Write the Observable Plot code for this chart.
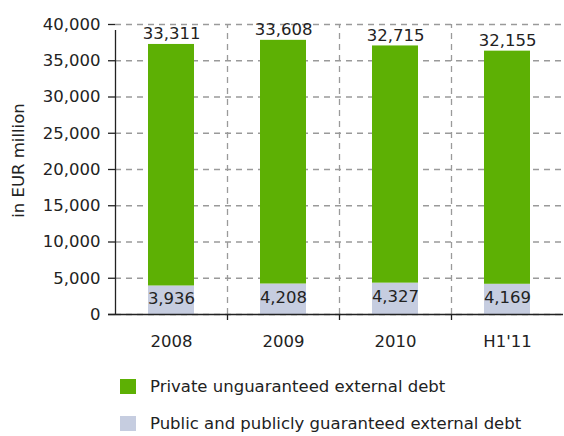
<!DOCTYPE html>
<html>
<head>
<meta charset="utf-8">
<script src="https://cdn.jsdelivr.net/npm/d3@7"></script>
<script src="https://cdn.jsdelivr.net/npm/@observablehq/plot@0.6"></script>
<style>
  html, body { margin: 0; padding: 0; background: #fff; }
  body { width: 564px; height: 436px; overflow: hidden; font-family: "DejaVu Sans", sans-serif; color: #222; }
  #legend { margin-top: 12px; padding-left: 120px; }
  .row { display: flex; align-items: center; height: 37px; font-size: 16.5px; }
  .sw { width: 16px; height: 15px; margin-right: 14px; }
</style>
</head>
<body>
<div id="chart"></div>
<div id="legend"></div>
<script>
const years = ["2008", "2009", "2010", "H1'11"];
const privateDebt = [33311, 33608, 32715, 32155];
const publicDebt = [3936, 4208, 4327, 4169];
const yTicks = [0, 5000, 10000, 15000, 20000, 25000, 30000, 35000, 40000];
const seriesNames = ["Public and publicly guaranteed external debt", "Private unguaranteed external debt"];
const seriesColors = ["#c6cde0", "#5db004"];

const data = years.flatMap((yr, i) => [
  {year: yr, type: seriesNames[0], value: publicDebt[i]},
  {year: yr, type: seriesNames[1], value: privateDebt[i]}
]);
const fmt = d3.format(",");
const step = 112;

const chart = Plot.plot({
  width: 564,
  height: 356,
  marginLeft: 115,
  marginRight: 1,
  marginTop: 24,
  marginBottom: 42,
  style: {fontFamily: "DejaVu Sans, sans-serif", fontSize: "16px", color: "#222", background: "#fff"},
  x: {domain: years, padding: 0, label: null},
  y: {domain: [0, 40000], label: null},
  color: {domain: seriesNames, range: seriesColors},
  marks: [
    Plot.gridY(yTicks, {stroke: "#9a9a9a", strokeOpacity: 1, strokeWidth: 1.3, strokeDasharray: "6,5"}),
    Plot.ruleX(years.slice(1), {x: d => d, dx: -step / 2, y1: 0, y2: 40000, stroke: "#9a9a9a", strokeWidth: 1.3, strokeDasharray: "6,5"}),
    Plot.barY(data, Plot.stackY({x: "year", y: "value", fill: "type", z: "type", order: seriesNames, insetLeft: 33, insetRight: 33})),
    Plot.ruleX(years.slice(1), {x: d => d, dx: -step / 2, y1: 0, y2: 0, insetBottom: -6, stroke: "#222", strokeWidth: 1.3}),
    Plot.ruleX(years.slice(0, 1), {x: d => d, dx: -step / 2, y1: 0, y2: 40000, insetBottom: -6, stroke: "#222", strokeWidth: 1.3}),
    Plot.ruleY([0], {stroke: "#222", strokeWidth: 1.3, insetLeft: -7}),
    Plot.axisY(yTicks, {tickSize: 7, tickPadding: 8, tickFormat: fmt, stroke: "#222", strokeWidth: 1.3, fill: "#222", fontSize: 16.5, label: null}),
    Plot.axisX({tickSize: 0, tickPadding: 21, fill: "#222", fontSize: 16.5, label: null}),
    Plot.text(data, Plot.stackY2({x: "year", y: "value", z: "type", order: seriesNames,
      text: d => d.type === seriesNames[1] ? fmt(d.value) : null,
      lineAnchor: "bottom", dy: -5, fill: "#222", fontSize: 16.5})),
    Plot.text(data, Plot.stackY({x: "year", y: "value", z: "type", order: seriesNames,
      text: d => d.type === seriesNames[0] ? fmt(d.value) : null,
      dy: -2, fill: "#222", fontSize: 16.5})),
    Plot.text(["in EUR million"], {frameAnchor: "left", text: d => d, rotate: -90, textAnchor: "middle", dx: -97, dy: -9, fill: "#222", fontSize: 16.5})
  ]
});
document.getElementById("chart").appendChild(chart);

const legend = document.getElementById("legend");
[1, 0].forEach(i => {
  const row = document.createElement("div");
  row.className = "row";
  const sw = document.createElement("div");
  sw.className = "sw";
  sw.style.background = seriesColors[i];
  const label = document.createElement("span");
  label.textContent = seriesNames[i];
  row.appendChild(sw);
  row.appendChild(label);
  legend.appendChild(row);
});
</script>
</body>
</html>
